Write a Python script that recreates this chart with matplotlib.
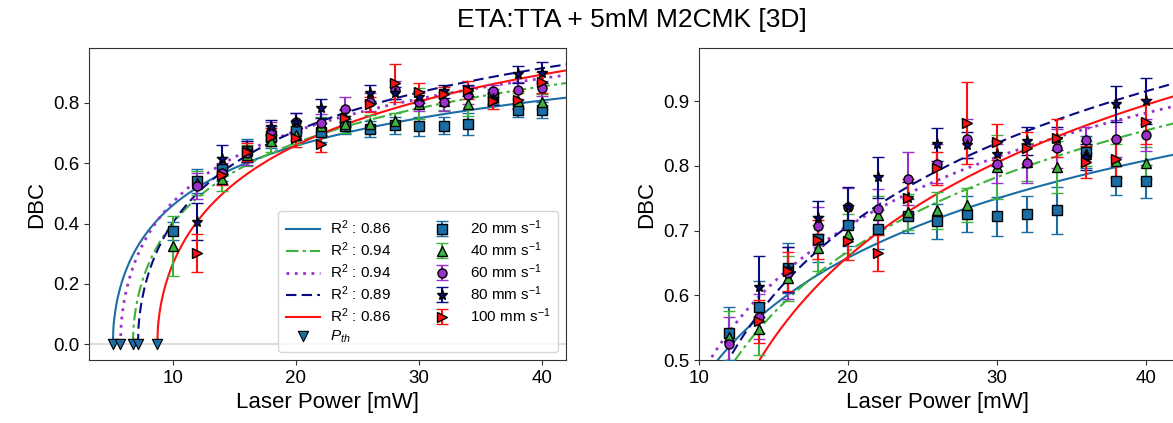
import numpy as np
import matplotlib
matplotlib.use("Agg")
import matplotlib.pyplot as plt

plt.rcParams['font.family'] = ['Liberation Sans', 'DejaVu Sans']
plt.rcParams['mathtext.fontset'] = 'custom'
plt.rcParams['mathtext.rm'] = 'Liberation Sans'
plt.rcParams['mathtext.it'] = 'Liberation Sans:italic'

# Scan speeds
speeds = ["20", "40", "60", "80", "100"]

# Laser power (mW) for each speed series
power_20 = [10, 12, 14, 16, 18, 20, 22, 24, 26, 28, 30, 32, 34, 36, 38, 40]
power_40 = [10, 12, 14, 16, 18, 20, 22, 24, 26, 28, 30, 32, 34, 36, 38, 40]
power_60 = [12, 14, 16, 18, 20, 22, 24, 26, 28, 30, 32, 34, 36, 38, 40]
power_80 = [12, 14, 16, 18, 20, 22, 24, 26, 28, 30, 32, 34, 36, 38, 40]
power_100 = [12, 14, 16, 18, 20, 22, 24, 26, 28, 30, 32, 34, 36, 38, 40]

# Measured DBC and standard deviation
dbc_20 = [0.375, 0.541, 0.582, 0.642, 0.687, 0.708, 0.702, 0.722, 0.714, 0.726, 0.722, 0.725, 0.731, 0.821, 0.777, 0.776]
err_20 = [0.030, 0.041, 0.040, 0.038, 0.035, 0.032, 0.030, 0.026, 0.027, 0.028, 0.030, 0.028, 0.036, 0.025, 0.022, 0.026]

dbc_40 = [0.325, 0.535, 0.548, 0.626, 0.673, 0.695, 0.724, 0.729, 0.731, 0.739, 0.798, 0.806, 0.798, 0.819, 0.808, 0.804]
err_40 = [0.100, 0.040, 0.040, 0.035, 0.035, 0.030, 0.030, 0.028, 0.028, 0.026, 0.050, 0.030, 0.040, 0.020, 0.025, 0.025]

dbc_60 = [0.524, 0.567, 0.634, 0.707, 0.736, 0.734, 0.780, 0.803, 0.842, 0.803, 0.804, 0.827, 0.840, 0.842, 0.848]
err_60 = [0.043, 0.035, 0.040, 0.030, 0.030, 0.030, 0.041, 0.030, 0.030, 0.030, 0.030, 0.030, 0.020, 0.029, 0.025]

dbc_80 = [0.407, 0.613, 0.640, 0.720, 0.736, 0.782, 0.750, 0.833, 0.832, 0.819, 0.838, 0.842, 0.814, 0.895, 0.900]
err_80 = [0.060, 0.047, 0.035, 0.025, 0.031, 0.032, 0.025, 0.026, 0.020, 0.020, 0.022, 0.018, 0.020, 0.028, 0.035]

dbc_100 = [0.302, 0.560, 0.637, 0.686, 0.684, 0.665, 0.750, 0.796, 0.866, 0.837, 0.828, 0.843, 0.806, 0.811, 0.868]
err_100 = [0.063, 0.033, 0.030, 0.030, 0.030, 0.028, 0.030, 0.025, 0.063, 0.028, 0.025, 0.030, 0.025, 0.030, 0.035]

# Fit parameters: DBC = a * sqrt(ln(P / P_th))
fit_a = [0.564, 0.641, 0.633, 0.698, 0.725]
fit_pth = [5.13, 6.76, 5.75, 7.17, 8.74]
fit_r2 = ["0.86", "0.94", "0.94", "0.89", "0.86"]

powers = [power_20, power_40, power_60, power_80, power_100]
dbcs = [dbc_20, dbc_40, dbc_60, dbc_80, dbc_100]
errs = [err_20, err_40, err_60, err_80, err_100]

colors = ["#1b6ea5", "#3cb33c", "#9b30cc", "#0a0a80", "#ff1010"]
markers = ["s", "^", "o", "*", ">"]
styles = ["-", (0, (6, 2, 1.5, 2)), (0, (1, 2)), (0, (5, 2.5)), "-"]
pth_color = "#1b6ea5"

fig = plt.figure(figsize=(11.73, 4.23), dpi=100)
ax1 = fig.add_axes([0.0759, 0.1489, 0.4064, 0.7376])
ax2 = fig.add_axes([0.5959, 0.1489, 0.4064, 0.7376])


def draw(ax, with_legend):
    if with_legend:
        ax.axhline(0, color="#dddddd", lw=1.5, zorder=0)
    line_handles = []
    for i in range(5):
        p = np.linspace(fit_pth[i], 46, 800)
        y = fit_a[i] * np.sqrt(np.log(p / fit_pth[i]))
        ls = styles[i]
        lw = 2.0 if i == 2 else 1.5
        (h,) = ax.plot(p, y, color=colors[i], ls=ls, lw=lw, zorder=2,
                       label=f"R$^2$ : {fit_r2[i]}")
        line_handles.append(h)
    pth_handle = ax.scatter(fit_pth, np.zeros(5), marker="v", s=55,
                            color=pth_color, edgecolor="black", lw=0.8,
                            zorder=4, label=r"$P_{th}$", clip_on=False)
    eb_handles = []
    for i in range(5):
        ms = 8 if markers[i] == "*" else 6.5
        h = ax.errorbar(powers[i], dbcs[i], yerr=errs[i], fmt=markers[i],
                        color=colors[i], ecolor=colors[i], mfc=colors[i],
                        mec="black", mew=1.0, ms=ms, capsize=4, elinewidth=1.5,
                        capthick=1.5, zorder=3,
                        label=f"{speeds[i]} mm s$^{{-1}}$")
        eb_handles.append(h)
    if with_legend:
        handles = line_handles + [pth_handle] + eb_handles
        ax.legend(handles=handles, loc="lower right", ncol=2, fontsize=11,
                  handlelength=2.2, columnspacing=2.2, labelspacing=0.22,
                  handletextpad=0.7, borderpad=0.5)
    for s in ax.spines.values():
        s.set_color("#333333")
    ax.tick_params(labelsize=13.5, color="#333333")
    ax.set_xlabel("Laser Power [mW]", fontsize=16)
    ax.set_ylabel("DBC", fontsize=16)


draw(ax1, True)
ax1.set_xlim(3.2, 41.9)
ax1.set_ylim(-0.052, 0.982)
ax1.set_xticks([10, 20, 30, 40])
ax1.set_yticks([0.0, 0.2, 0.4, 0.6, 0.8])

draw(ax2, False)
ax2.set_xlim(10, 42)
ax2.set_ylim(0.5, 0.982)
ax2.set_xticks([10, 20, 30, 40])
ax2.set_yticks([0.5, 0.6, 0.7, 0.8, 0.9])

fig.text(632 / 1173, 1 - 20 / 423, "ETA:TTA + 5mM M2CMK [3D]", fontsize=19,
         ha="center", va="center")

fig.savefig("out.png", dpi=100)
